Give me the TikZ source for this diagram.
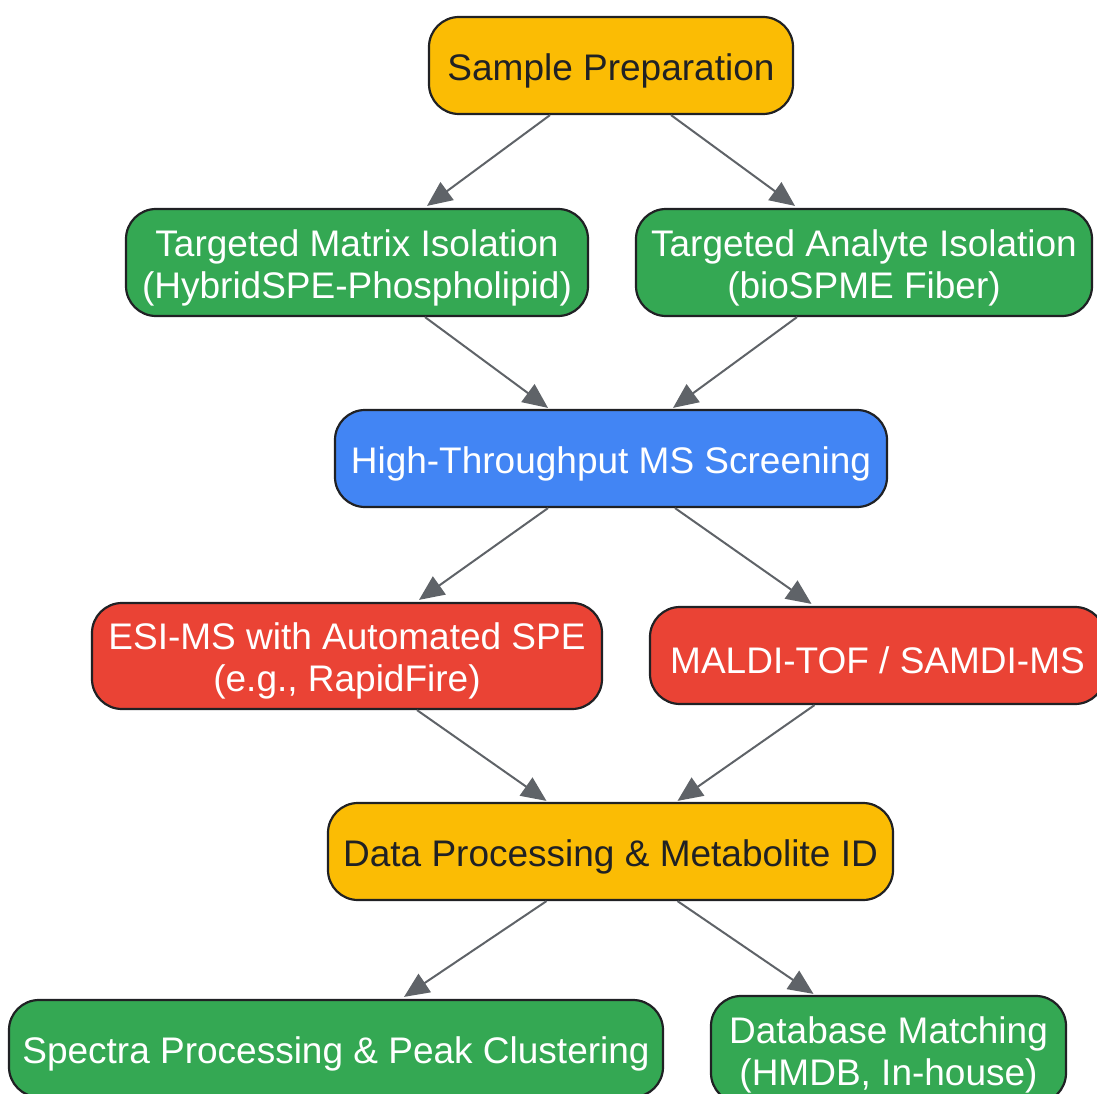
\documentclass[tikz,border=0pt]{standalone}
\usepackage{fontspec}
\setmainfont{Liberation Sans}
\usetikzlibrary{arrows.meta}
\definecolor{cyellow}{HTML}{FBBC04}
\definecolor{cgreen}{HTML}{34A853}
\definecolor{cblue}{HTML}{4285F4}
\definecolor{cred}{HTML}{EA4335}
\definecolor{cdark}{HTML}{202124}
\definecolor{carrow}{HTML}{5F6368}
\newcommand{\tup}{\rule{0pt}{37pt}}
\tikzset{
  box/.style={draw=cdark, line width=2.2pt, rounded corners=30pt, inner sep=0pt, align=center,
    font=\fontsize{37}{42}\selectfont},
  ybox/.style={box, fill=cyellow, text=cdark},
  gbox/.style={box, fill=cgreen, text=white},
  bbox/.style={box, fill=cblue, text=white},
  rbox/.style={box, fill=cred, text=white},
  conn/.style={draw=carrow, line width=2pt, -{Triangle[length=25pt,width=22pt]}},
}
\begin{document}
\begin{tikzpicture}[x=1pt,y=-1pt]
\useasboundingbox (0,0) rectangle (1097,1094);
\clip (0,0) rectangle (1097,1094);
\node[ybox, minimum width=364pt, minimum height=97pt] (sp) at (611,65.5) {\tup Sample Preparation};
\node[gbox, minimum width=462pt, minimum height=107pt] (tm) at (357,262.5) {\tup Targeted Matrix Isolation\\(HybridSPE-Phospholipid)};
\node[gbox, minimum width=456pt, minimum height=107pt] (ta) at (864,262.5) {\tup Targeted Analyte Isolation\\(bioSPME Fiber)};
\node[bbox, minimum width=552pt, minimum height=97pt] (ht) at (611,458.5) {\tup High-Throughput MS Screening};
\node[rbox, minimum width=510pt, minimum height=106pt] (esi) at (347,656) {\tup ESI-MS with Automated SPE\\(e.g., RapidFire)};
\node[rbox, minimum width=455pt, minimum height=97pt] (ma) at (877.5,655.5) {\tup MALDI-TOF / SAMDI-MS};
\node[ybox, minimum width=565pt, minimum height=97pt] (dp) at (610.5,851.5) {\tup Data Processing \& Metabolite ID};
\node[gbox, minimum width=654pt, minimum height=97pt] (spc) at (336,1048.5) {\tup Spectra Processing \& Peak Clustering};
\node[gbox, minimum width=355pt, minimum height=107pt] (db) at (888.5,1049.5) {\tup Database Matching\\(HMDB, In-house)};

\draw[conn] ([xshift=-61pt]sp.south) -- ([xshift=70pt,yshift=2pt]tm.north);
\draw[conn] ([xshift=60pt]sp.south) -- ([xshift=-69pt,yshift=2pt]ta.north);
\draw[conn] ([xshift=68pt]tm.south) -- ([xshift=-63pt,yshift=1pt]ht.north);
\draw[conn] ([xshift=-67pt]ta.south) -- ([xshift=62pt,yshift=1pt]ht.north);
\draw[conn] ([xshift=-63pt]ht.south) -- ([xshift=72pt,yshift=2pt]esi.north);
\draw[conn] ([xshift=64pt]ht.south) -- ([xshift=-66pt,yshift=2pt]ma.north);
\draw[conn] ([xshift=70pt]esi.south) -- ([xshift=-64pt,yshift=1pt]dp.north);
\draw[conn] ([xshift=-63pt]ma.south) -- ([xshift=67pt,yshift=1pt]dp.north);
\draw[conn] ([xshift=-64pt]dp.south) -- ([xshift=68pt,yshift=2pt]spc.north);
\draw[conn] ([xshift=67pt]dp.south) -- ([xshift=-75pt,yshift=1pt]db.north);
\end{tikzpicture}
\end{document}
